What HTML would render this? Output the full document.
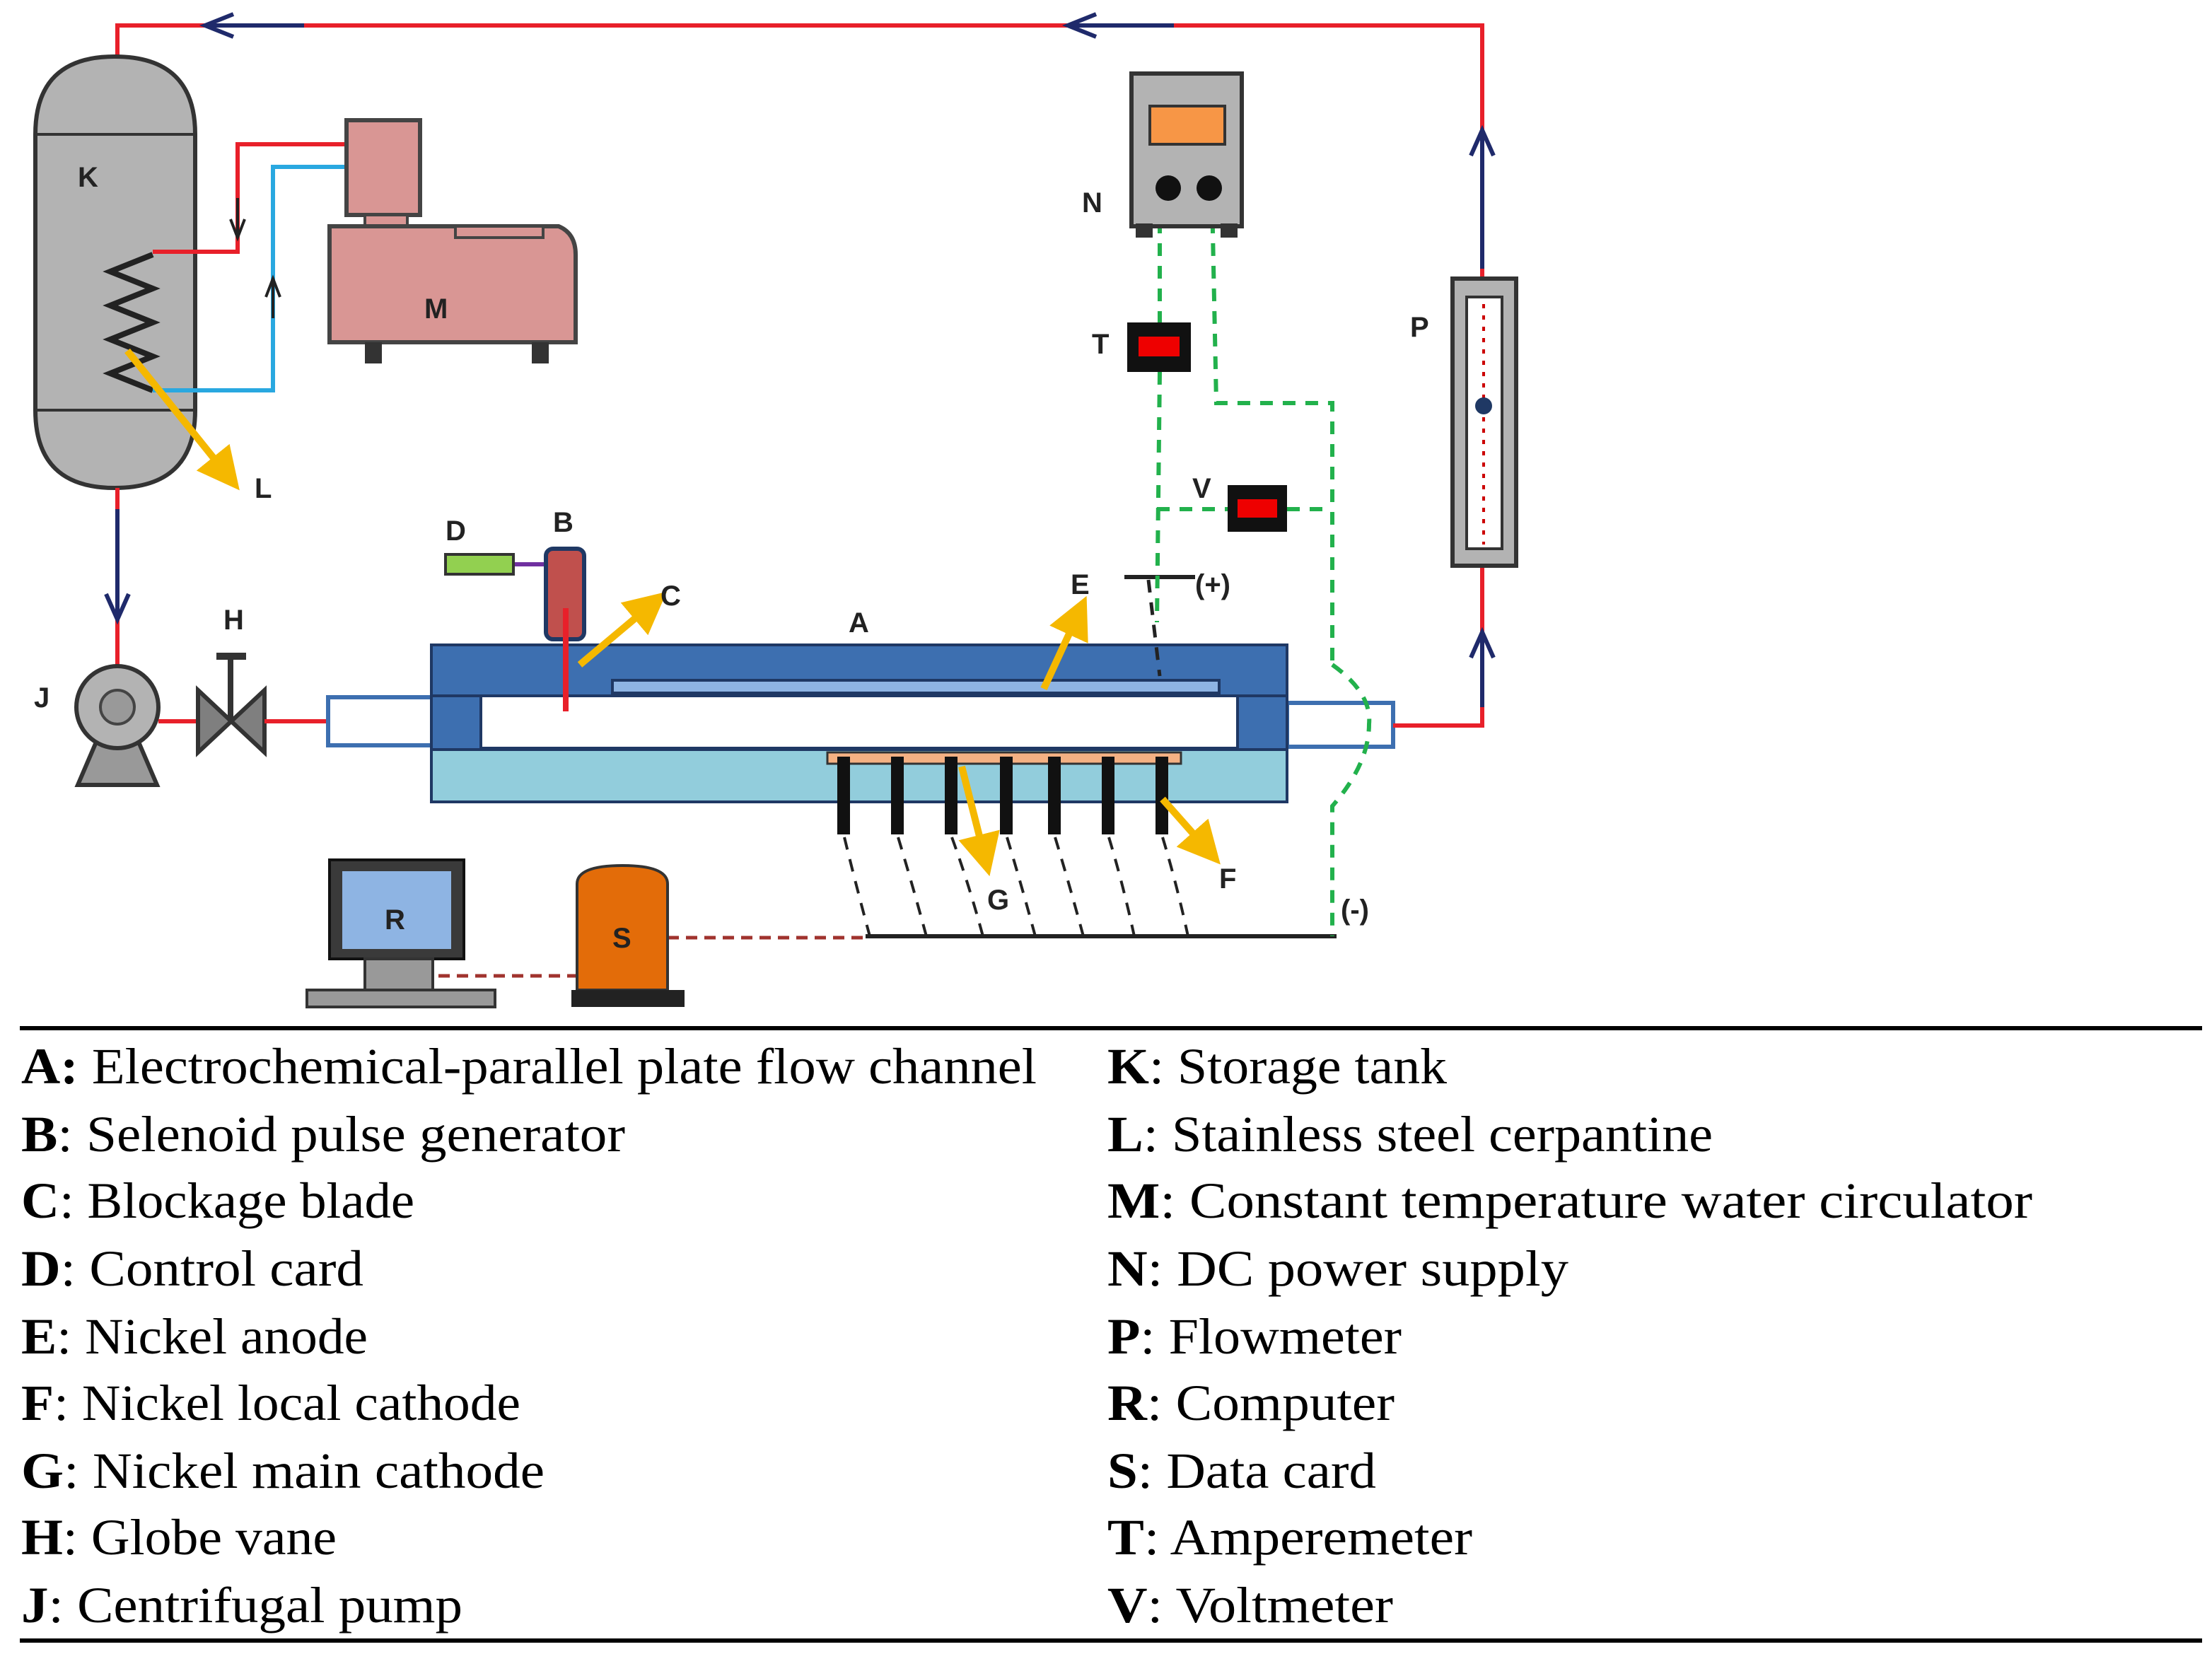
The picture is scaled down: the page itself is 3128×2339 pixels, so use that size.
<!DOCTYPE html>
<html><head><meta charset="utf-8"><style>
html,body{margin:0;padding:0;background:#fff;}
svg{display:block;}
text{font-family:"Liberation Sans",sans-serif;}
.lg{font-family:"Liberation Serif",serif;font-size:36px;fill:#000;}
.lb{font-family:"Liberation Sans",sans-serif;font-size:20px;font-weight:bold;fill:#222;}
</style></head><body>
<svg width="3128" height="2339" viewBox="0 0 1564 1169.5" xmlns="http://www.w3.org/2000/svg">
<defs>
<marker id="ya" markerWidth="6" markerHeight="6" refX="3" refY="3" orient="auto" markerUnits="strokeWidth"><path d="M0,0 L6,3 L0,6 z" fill="#f5b800"/></marker>
</defs>
<rect width="1564" height="1169.5" fill="#fff"/>
<polyline points="83,40 83,18 1048,18 1048,197" fill="none" stroke="#e8202a" stroke-width="3"/>
<path d="M165,10 L145,18 L165,26 M145,18 L215,18" stroke="#1f2a6b" stroke-width="3" fill="none"/>
<path d="M775,10 L755,18 L775,26 M755,18 L830,18" stroke="#1f2a6b" stroke-width="3" fill="none"/>
<path d="M1040,110 L1048,92 L1056,110 M1048,92 L1048,190" stroke="#1f2a6b" stroke-width="3" fill="none"/>
<path d="M25,95 Q25,40 81,40 Q138,40 138,95 L138,290 Q138,345 81,345 Q25,345 25,290 Z" fill="#b3b3b3" stroke="#333" stroke-width="3"/>
<line x1="25" y1="95" x2="138" y2="95" stroke="#333" stroke-width="2"/>
<line x1="25" y1="290" x2="138" y2="290" stroke="#333" stroke-width="2"/>
<text x="55" y="132" class="lb">K</text>
<polyline points="108,180 78,192 108,204 78,216 108,228 78,240 108,252 78,264 108,276" fill="none" stroke="#222" stroke-width="4"/>
<polyline points="108,178 168,178 168,102 245,102" fill="none" stroke="#e8202a" stroke-width="3"/>
<polyline points="108,276 193,276 193,118 245,118" fill="none" stroke="#29a8e0" stroke-width="3"/>
<path d="M163,155 L168,168 L173,155" fill="none" stroke="#222" stroke-width="2"/>
<line x1="168" y1="140" x2="168" y2="168" stroke="#222" stroke-width="2"/>
<path d="M188,210 L193,197 L198,210" fill="none" stroke="#222" stroke-width="2"/>
<line x1="193" y1="197" x2="193" y2="225" stroke="#222" stroke-width="2"/>
<rect x="245" y="85" width="52" height="67" fill="#d99694" stroke="#444" stroke-width="3"/>
<rect x="258" y="152" width="30" height="8" fill="#d99694" stroke="#444" stroke-width="2"/>
<path d="M233,160 L395,160 Q407,165 407,180 L407,242 L233,242 Z" fill="#d99694" stroke="#444" stroke-width="3"/>
<rect x="322" y="160" width="62" height="8" fill="#d99694" stroke="#444" stroke-width="2"/>
<rect x="258" y="242" width="12" height="15" fill="#333"/>
<rect x="376" y="242" width="12" height="15" fill="#333"/>
<text x="300" y="225" class="lb">M</text>
<line x1="90" y1="248" x2="160" y2="335" stroke="#f5b800" stroke-width="5" marker-end="url(#ya)"/>
<text x="180" y="352" class="lb">L</text>
<line x1="83" y1="345" x2="83" y2="472" stroke="#e8202a" stroke-width="3"/>
<path d="M75,420 L83,438 L91,420 M83,360 L83,438" stroke="#1f2a6b" stroke-width="3" fill="none"/>
<path d="M55,555 L70,520 L96,520 L111,555 Z" fill="#999" stroke="#333" stroke-width="3"/>
<circle cx="83" cy="500" r="29" fill="#b3b3b3" stroke="#333" stroke-width="3"/>
<circle cx="83" cy="500" r="12" fill="#999" stroke="#444" stroke-width="2"/>
<text x="24" y="500" class="lb" font-size="16">J</text>
<line x1="112" y1="510" x2="140" y2="510" stroke="#e8202a" stroke-width="3"/>
<path d="M140,488 L187,532 L187,488 L140,532 Z" fill="#7f7f7f" stroke="#333" stroke-width="3"/>
<line x1="163" y1="510" x2="163" y2="464" stroke="#333" stroke-width="4"/>
<line x1="153" y1="464" x2="174" y2="464" stroke="#333" stroke-width="5"/>
<text x="158" y="445" class="lb">H</text>
<line x1="187" y1="510" x2="232" y2="510" stroke="#e8202a" stroke-width="3"/>
<rect x="232" y="493" width="75" height="34" fill="#fff" stroke="#3d6fb0" stroke-width="3"/>
<rect x="910" y="497" width="75" height="31" fill="#fff" stroke="#3d6fb0" stroke-width="3"/>
<rect x="305" y="456" width="605" height="36" fill="#3d6fb0" stroke="#1f3864" stroke-width="2"/>
<rect x="305" y="492" width="35" height="38" fill="#3d6fb0" stroke="#1f3864" stroke-width="2"/>
<rect x="875" y="492" width="35" height="38" fill="#3d6fb0" stroke="#1f3864" stroke-width="2"/>
<rect x="340" y="492" width="535" height="37" fill="#fff" stroke="#1f3864" stroke-width="2"/>
<rect x="305" y="530" width="605" height="37" fill="#92cddc" stroke="#1f3864" stroke-width="2"/>
<rect x="433" y="481" width="429" height="9" fill="#8eb4e3" stroke="#1f3864" stroke-width="2"/>
<rect x="585" y="532" width="250" height="8" fill="#f4b183" stroke="#333" stroke-width="1.5"/>
<g fill="#111">
<rect x="592" y="535" width="9" height="55"/><rect x="630" y="535" width="9" height="55"/><rect x="668" y="535" width="9" height="55"/><rect x="707" y="535" width="9" height="55"/><rect x="741" y="535" width="9" height="55"/><rect x="779" y="535" width="9" height="55"/><rect x="817" y="535" width="9" height="55"/>
</g>
<g fill="none" stroke="#222" stroke-width="2" stroke-dasharray="9,7">
<path d="M597,592 Q605,625 615,662"/><path d="M635,592 Q645,625 655,662"/><path d="M673,592 Q685,625 695,662"/><path d="M712,592 Q722,625 732,662"/><path d="M746,592 Q756,625 766,662"/><path d="M784,592 Q794,625 802,662"/><path d="M822,592 Q832,625 840,662"/>
</g>
<line x1="612" y1="662" x2="945" y2="662" stroke="#222" stroke-width="3"/>
<text x="948" y="650" class="lb">(-)</text>
<text x="600" y="447" class="lb">A</text>
<polyline points="985,513 1048,513 1048,400" fill="none" stroke="#e8202a" stroke-width="3"/>
<path d="M1040,465 L1048,447 L1056,465 M1048,447 L1048,500" stroke="#1f2a6b" stroke-width="3" fill="none"/>
<rect x="1027" y="197" width="45" height="203" fill="#b3b3b3" stroke="#333" stroke-width="3"/>
<rect x="1037" y="210" width="25" height="178" fill="#fff" stroke="#333" stroke-width="2"/>
<line x1="1049" y1="215" x2="1049" y2="385" stroke="#c00" stroke-width="2" stroke-dasharray="3,5"/>
<circle cx="1049" cy="287" r="6" fill="#1f3864"/>
<text x="997" y="238" class="lb">P</text>
<line x1="363" y1="399" x2="386" y2="399" stroke="#7030a0" stroke-width="3"/>
<rect x="315" y="392" width="48" height="14" fill="#92d050" stroke="#333" stroke-width="2"/>
<text x="315" y="382" class="lb">D</text>
<rect x="386" y="388" width="27" height="64" rx="5" fill="#c0504d" stroke="#1f3864" stroke-width="3"/>
<text x="391" y="376" class="lb">B</text>
<line x1="400" y1="430" x2="400" y2="503" stroke="#e8202a" stroke-width="4"/>
<line x1="410" y1="470" x2="460" y2="428" stroke="#f5b800" stroke-width="5" marker-end="url(#ya)"/>
<text x="467" y="428" class="lb">C</text>
<line x1="738" y1="487" x2="762" y2="435" stroke="#f5b800" stroke-width="5" marker-end="url(#ya)"/>
<text x="757" y="420" class="lb">E</text>
<line x1="795" y1="408" x2="845" y2="408" stroke="#222" stroke-width="3"/>
<line x1="812" y1="410" x2="820" y2="478" stroke="#222" stroke-width="2.5" stroke-dasharray="9,7"/>
<text x="845" y="420" class="lb">(+)</text>
<line x1="680" y1="542" x2="696" y2="605" stroke="#f5b800" stroke-width="5" marker-end="url(#ya)"/>
<text x="698" y="643" class="lb">G</text>
<line x1="822" y1="565" x2="853" y2="600" stroke="#f5b800" stroke-width="5" marker-end="url(#ya)"/>
<text x="862" y="628" class="lb">F</text>
<g fill="none" stroke="#22b14c" stroke-width="3" stroke-dasharray="9,7">
<line x1="820" y1="140" x2="820" y2="228"/>
<line x1="820" y1="263" x2="818" y2="440"/>
<polyline points="857,140 860,285 942,285 942,470"/>
<path d="M942,470 Q970,490 968,512 Q968,540 942,570 L942,662"/>
<line x1="818" y1="360" x2="868" y2="360"/>
<line x1="910" y1="360" x2="942" y2="360"/>
</g>
<rect x="800" y="52" width="78" height="108" fill="#b3b3b3" stroke="#333" stroke-width="3"/>
<rect x="803" y="158" width="12" height="10" fill="#333"/><rect x="863" y="158" width="12" height="10" fill="#333"/>
<rect x="813" y="75" width="53" height="27" fill="#f79646" stroke="#333" stroke-width="2"/>
<circle cx="826" cy="133" r="9" fill="#111"/><circle cx="855" cy="133" r="9" fill="#111"/>
<text x="765" y="150" class="lb">N</text>
<rect x="797" y="228" width="45" height="35" fill="#111"/><rect x="805" y="238" width="29" height="14" fill="#e00"/>
<text x="772" y="250" class="lb">T</text>
<rect x="868" y="343" width="42" height="33" fill="#111"/><rect x="875" y="353" width="28" height="13" fill="#e00"/>
<text x="843" y="352" class="lb">V</text>
<line x1="472" y1="663" x2="612" y2="663" stroke="#a0332e" stroke-width="2.5" stroke-dasharray="8,5"/>
<line x1="310" y1="690" x2="408" y2="690" stroke="#a0332e" stroke-width="2.5" stroke-dasharray="8,5"/>
<rect x="233" y="608" width="95" height="70" fill="#3a3a3a" stroke="#111" stroke-width="2"/>
<rect x="242" y="616" width="77" height="55" fill="#8eb4e3"/>
<text x="272" y="657" class="lb">R</text>
<rect x="258" y="678" width="48" height="22" fill="#999" stroke="#333" stroke-width="2"/>
<rect x="217" y="700" width="133" height="12" fill="#999" stroke="#333" stroke-width="2"/>
<path d="M408,700 L408,625 Q408,612 440,612 Q472,612 472,625 L472,700 Z" fill="#e36c09" stroke="#333" stroke-width="2"/>
<rect x="404" y="700" width="80" height="12" fill="#222"/>
<text x="433" y="670" class="lb">S</text>
<line x1="14" y1="727" x2="1557" y2="727" stroke="#000" stroke-width="3"/>
<line x1="14" y1="1160" x2="1557" y2="1160" stroke="#000" stroke-width="3"/>
<text x="15" y="766" class="lg" textLength="718" lengthAdjust="spacingAndGlyphs"><tspan font-weight="bold">A:</tspan> Electrochemical-parallel plate flow channel</text>
<text x="15" y="814" class="lg" textLength="427" lengthAdjust="spacingAndGlyphs"><tspan font-weight="bold">B</tspan>: Selenoid pulse generator</text>
<text x="15" y="861" class="lg" textLength="278" lengthAdjust="spacingAndGlyphs"><tspan font-weight="bold">C</tspan>: Blockage blade</text>
<text x="15" y="909" class="lg" textLength="242" lengthAdjust="spacingAndGlyphs"><tspan font-weight="bold">D</tspan>: Control card</text>
<text x="15" y="957" class="lg" textLength="245" lengthAdjust="spacingAndGlyphs"><tspan font-weight="bold">E</tspan>: Nickel anode</text>
<text x="15" y="1004" class="lg" textLength="353" lengthAdjust="spacingAndGlyphs"><tspan font-weight="bold">F</tspan>: Nickel local cathode</text>
<text x="15" y="1052" class="lg" textLength="370" lengthAdjust="spacingAndGlyphs"><tspan font-weight="bold">G</tspan>: Nickel main cathode</text>
<text x="15" y="1099" class="lg" textLength="223" lengthAdjust="spacingAndGlyphs"><tspan font-weight="bold">H</tspan>: Globe vane</text>
<text x="15" y="1147" class="lg" textLength="312" lengthAdjust="spacingAndGlyphs"><tspan font-weight="bold">J</tspan>: Centrifugal pump</text>
<text x="783" y="766" class="lg" textLength="240" lengthAdjust="spacingAndGlyphs"><tspan font-weight="bold">K</tspan>: Storage tank</text>
<text x="783" y="814" class="lg" textLength="428" lengthAdjust="spacingAndGlyphs"><tspan font-weight="bold">L</tspan>: Stainless steel cerpantine</text>
<text x="783" y="861" class="lg" textLength="654" lengthAdjust="spacingAndGlyphs"><tspan font-weight="bold">M</tspan>: Constant temperature water circulator</text>
<text x="783" y="909" class="lg" textLength="326" lengthAdjust="spacingAndGlyphs"><tspan font-weight="bold">N</tspan>: DC power supply</text>
<text x="783" y="957" class="lg" textLength="208" lengthAdjust="spacingAndGlyphs"><tspan font-weight="bold">P</tspan>: Flowmeter</text>
<text x="783" y="1004" class="lg" textLength="203" lengthAdjust="spacingAndGlyphs"><tspan font-weight="bold">R</tspan>: Computer</text>
<text x="783" y="1052" class="lg" textLength="190" lengthAdjust="spacingAndGlyphs"><tspan font-weight="bold">S</tspan>: Data card</text>
<text x="783" y="1099" class="lg" textLength="258" lengthAdjust="spacingAndGlyphs"><tspan font-weight="bold">T</tspan>: Amperemeter</text>
<text x="783" y="1147" class="lg" textLength="202" lengthAdjust="spacingAndGlyphs"><tspan font-weight="bold">V</tspan>: Voltmeter</text>
</svg>
</body></html>
